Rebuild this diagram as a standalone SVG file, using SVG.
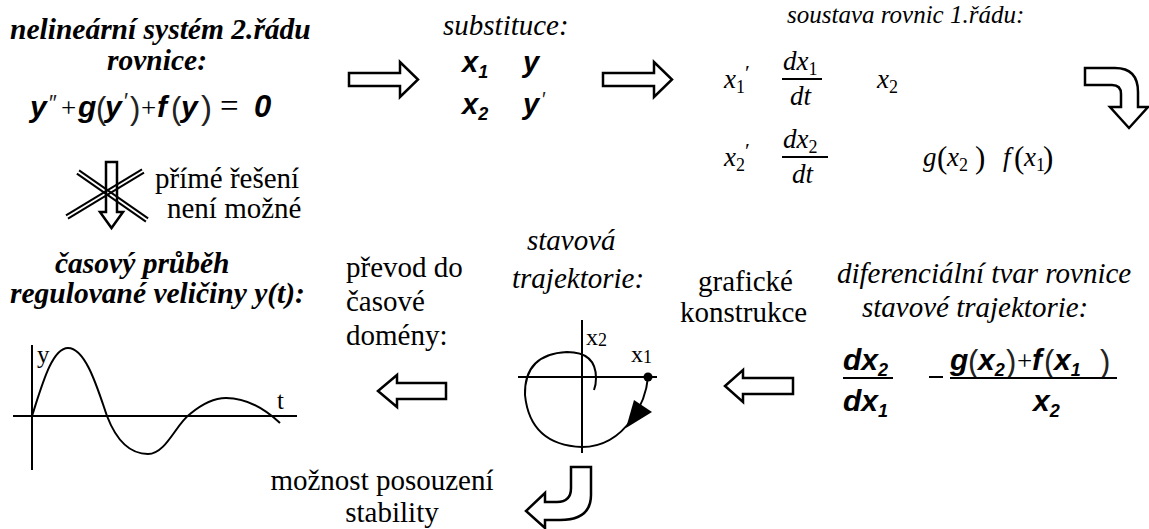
<svg xmlns="http://www.w3.org/2000/svg" width="1149" height="529" viewBox="0 0 1149 529">
<style>
.bi{font-family:"Liberation Serif",serif;font-weight:bold;font-style:italic;font-size:29.5px;fill:#000}
.it{font-family:"Liberation Serif",serif;font-style:italic;font-size:29px;fill:#000}
.rg{font-family:"Liberation Serif",serif;font-size:29px;fill:#000}
.m{font-family:"Liberation Sans",sans-serif;font-weight:bold;font-style:italic;font-size:30px;fill:#000}
.p{font-family:"Liberation Sans",sans-serif;font-size:31px;fill:#222}
.eq{font-family:"Liberation Serif",serif;font-style:italic;font-size:27px;fill:#000}
.eqn{font-family:"Liberation Serif",serif;font-size:27px;fill:#000}
.sub{font-size:18px}
.arr{fill:#fff;stroke:#000;stroke-width:2.5;stroke-linejoin:miter}
.ln{stroke:#000;stroke-width:2;fill:none}
</style>
<rect width="1149" height="529" fill="#fff"/>

<g id="node-system">
<text class="bi" x="10" y="39">nelineární systém 2.řádu</text>
<text class="bi" x="157" y="70" text-anchor="middle">rovnice:</text>
<text class="m" x="30" y="117">y</text>
<text class="p" x="49" y="110" style="font-size:22px">″</text>
<text class="eqn" x="61" y="117">+</text>
<text class="m" x="78" y="117">g</text>
<text class="p" x="96" y="119">(</text>
<text class="m" x="105" y="117">y</text>
<text class="p" x="124" y="108" style="font-size:22px">′</text>
<text class="p" x="130" y="119">)</text>
<text class="eqn" x="141" y="117">+</text>
<text class="m" x="157" y="117">f</text>
<text class="p" x="171" y="119">(</text>
<text class="m" x="181" y="117">y</text>
<text class="p" x="201" y="119" style="font-size:33px">)</text>
<text class="eqn" x="220" y="117" style="font-size:33px">=</text>
<text class="m" x="254" y="117" style="font-size:31px">0</text>
</g>

<g id="node-substituce">
<text class="it" x="443" y="35">substituce:</text>
<text class="m" x="462" y="72" style="font-size:29px">x<tspan class="sub" dy="6">1</tspan></text>
<text class="m" x="523" y="72" style="font-size:29px">y</text>
<text class="m" x="462" y="114" style="font-size:29px">x<tspan class="sub" dy="6">2</tspan></text>
<text class="m" x="523" y="114" style="font-size:29px">y</text>
<text class="p" x="542" y="106" style="font-size:20px">′</text>
</g>

<g id="node-soustava">
<text class="it" x="787" y="23" style="font-size:25px">soustava rovnic 1.řádu:</text>
<text class="eq" x="724" y="88">x<tspan class="sub" dy="5" font-style="normal">1</tspan><tspan dx="0" dy="-13" font-style="normal" font-size="22">′</tspan></text>
<text class="eq" x="783" y="70">dx<tspan class="sub" dy="5" font-style="normal">1</tspan></text>
<line class="ln" x1="782" y1="79" x2="822" y2="79" stroke-width="1.5"/>
<text class="eq" x="790" y="105">dt</text>
<text class="eq" x="877" y="88">x<tspan class="sub" dy="5" font-style="normal">2</tspan></text>

<text class="eq" x="724" y="166">x<tspan class="sub" dy="5" font-style="normal">2</tspan><tspan dx="0" dy="-13" font-style="normal" font-size="22">′</tspan></text>
<text class="eq" x="783" y="148">dx<tspan class="sub" dy="5" font-style="normal">2</tspan></text>
<line class="ln" x1="782" y1="157" x2="828" y2="157" stroke-width="1.5"/>
<text class="eq" x="792" y="183">dt</text>
<text class="eq" x="923" y="166">g</text>
<text class="eqn" x="937" y="168" style="font-size:31px">(</text>
<text class="eq" x="947" y="166">x<tspan class="sub" dy="5" font-style="normal">2</tspan></text>
<text class="eqn" x="975" y="168" style="font-size:31px">)</text>
<text class="eq" x="1003" y="166">f</text>
<text class="eqn" x="1014" y="168" style="font-size:31px">(</text>
<text class="eq" x="1024" y="166">x<tspan class="sub" dy="5" font-style="normal">1</tspan></text>
<text class="eqn" x="1043" y="168" style="font-size:31px">)</text>
</g>

<g id="node-nemozne">
<text class="rg" x="155" y="188">přímé řešení</text>
<text class="rg" x="167" y="218">není možné</text>
</g>

<g id="node-prubeh">
<text class="bi" x="55" y="273">časový průběh</text>
<text class="bi" x="10" y="303">regulované veličiny y(t):</text>
<line class="ln" x1="32" y1="345" x2="32" y2="470"/>
<line class="ln" x1="13" y1="416" x2="297" y2="416"/>
<path class="ln" stroke-width="2.5" d="M32,416 C42,385 52,348 68,348 C86,348 98,390 107,416 C117,442 130,454 148,454 C166,454 176,424 190,414 C202,404 214,398 226,398 C248,398 266,410 280,423"/>
<text class="rg" x="37" y="363" style="font-size:25px">y</text>
<text class="rg" x="277" y="409" style="font-size:25px">t</text>
</g>

<g id="node-prevod">
<text class="rg" x="346" y="277">převod do</text>
<text class="rg" x="346" y="311">časové</text>
<text class="rg" x="346" y="345">domény:</text>
</g>

<g id="node-trajektorie">
<text class="it" x="527" y="250">stavová</text>
<text class="it" x="512" y="288">trajektorie:</text>
<line class="ln" x1="582" y1="320" x2="582" y2="453"/>
<line class="ln" x1="518" y1="377" x2="657" y2="377"/>
<path class="ln" stroke-width="2.5" d="M648,377 Q646,400 632,419 Q612,447 582,447 Q530,445 525,395 Q524,354 567,352 Q596,352 596,378 Q596,385 594,390"/>
<circle cx="648" cy="377" r="4.5" fill="#000"/>
<polygon points="634,400 652,412 626,428" fill="#000"/>
<text class="rg" x="586" y="345" style="font-size:24px">x<tspan class="sub" dy="1">2</tspan></text>
<text class="rg" x="631" y="362" style="font-size:24px">x<tspan class="sub" dy="1">1</tspan></text>
</g>

<g id="node-graficke">
<text class="rg" x="698" y="291">grafické</text>
<text class="rg" x="680" y="322">konstrukce</text>
</g>

<g id="node-diferencialni">
<text class="it" x="837" y="283">diferenciální tvar rovnice</text>
<text class="it" x="862" y="317">stavové trajektorie:</text>
<text class="m" x="843" y="370">dx<tspan class="sub" dy="6">2</tspan></text>
<line class="ln" x1="843" y1="378" x2="893" y2="378" stroke-width="1.5"/>
<text class="m" x="843" y="411">dx<tspan class="sub" dy="6">1</tspan></text>
<line class="ln" x1="929" y1="377" x2="943" y2="377" stroke-width="3"/>
<text class="m" x="950" y="370">g</text>
<text class="p" x="968" y="372">(</text>
<text class="m" x="978" y="370">x<tspan class="sub" dy="6">2</tspan></text>
<text class="p" x="1006" y="372">)</text>
<text class="eqn" x="1017" y="370">+</text>
<text class="m" x="1032" y="370">f</text>
<text class="p" x="1044" y="372">(</text>
<text class="m" x="1054" y="370">x<tspan class="sub" dy="6">1</tspan></text>
<text class="p" x="1100" y="372">)</text>
<line class="ln" x1="950" y1="378" x2="1117" y2="378" stroke-width="1.5"/>
<text class="m" x="1033" y="411">x<tspan class="sub" dy="6">2</tspan></text>
</g>

<g id="node-stabilita">
<text class="rg" x="382" y="490" text-anchor="middle">možnost posouzení</text>
<text class="rg" x="392" y="522" text-anchor="middle">stability</text>
</g>

<g id="connectors">
<path class="arr" d="M349,73 H400 V62 L418,79.5 L400,97 V86 H349 Z"/>
<path class="arr" d="M603,73 H654 V62 L672,79.5 L654,97 V86 H603 Z"/>
<path class="arr" d="M1085,68 H1115 Q1138,68 1138,92 V107 H1148 L1129,128 L1110,107 H1121 V94 Q1121,85 1112,85 H1085 Z"/>
<path class="arr" d="M106,162 H117 V212 H123 L111.5,228 L100,212 H106 Z"/>
<g class="ln">
<line x1="76.9" y1="173.6" x2="145.9" y2="221.6"/>
<line x1="79.1" y1="170.4" x2="148.1" y2="218.4"/>
<line x1="68" y1="218.7" x2="144" y2="172.7"/>
<line x1="66" y1="215.3" x2="142" y2="169.3"/>
</g>
<path class="arr" d="M446,383 H397 V375 L378,391 L397,407 V399 H446 Z"/>
<path class="arr" d="M793,378 H743 V370 L725,386 L743,402 V394 H793 Z"/>
<path class="arr" d="M571,467 H591 V495 Q591,520 560,520 H545 V528 L526,511 L545,493 V502 H557 Q571,502 571,488 Z"/>
</g>
</svg>
